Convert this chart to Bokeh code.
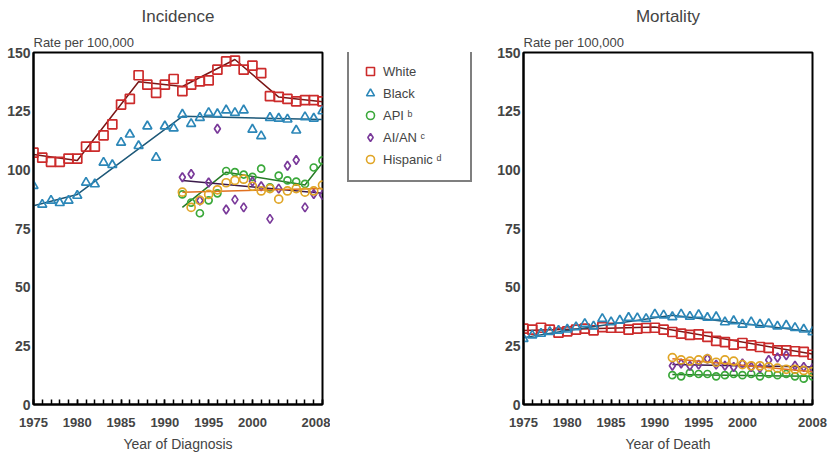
from bokeh.plotting import figure
from bokeh.layouts import row
from bokeh.models import FixedTicker, Title, Legend, LegendItem, Range1d
from bokeh.embed import file_html
from bokeh.resources import INLINE

FONT = "Liberation Sans"

# ---------------- data ----------------
years = list(range(1975, 2009))
sub_years = list(range(1992, 2009))

x_ticks = [1975, 1980, 1985, 1990, 1995, 2000, 2008]
y_ticks = [0, 25, 50, 75, 100, 125, 150]

# Incidence (rate per 100,000)
inc_white = [107.3, 105.2, 103.4, 103.4, 104.8, 104.8, 109.9, 109.9, 114.7, 119.4,
             127.8, 130.2, 140.3, 136.3, 132.8, 136.3, 138.7, 133.5, 136.3, 137.7,
             138.1, 142.7, 146.2, 146.5, 142.7, 144.4, 141.2, 131.4, 131.1, 130.2,
             129.2, 129.7, 129.7, 129.2]
inc_black = [93.2, 85.2, 86.9, 85.9, 86.9, 89.0, 94.6, 93.9, 103.1, 102.1,
             111.6, 115.1, 110.2, 118.6, 105.2, 118.6, 117.7, 123.6, 119.6, 122.2,
             124.3, 123.8, 125.4, 124.3, 125.4, 117.2, 114.4, 122.2, 121.9, 121.5,
             116.8, 122.5, 121.9, 125.0]
inc_api = [89.5, 86.0, 81.5, 87.0, 90.0, 99.5, 99.0, 98.0, 97.0, 100.5,
           92.5, 97.5, 95.5, 95.0, 94.0, 101.0, 104.0]
inc_aian = [96.8, 98.2, 86.9, 94.6, 117.5, 83.1, 87.3, 84.0, 95.0, 93.0,
            79.1, 92.0, 101.7, 104.2, 84.0, 89.7, 89.3]
inc_hisp = [90.5, 84.0, 87.0, 89.5, 91.5, 94.5, 95.5, 96.0, 93.0, 91.0,
            92.0, 87.5, 91.0, 92.0, 90.5, 91.0, 93.5]

# Incidence joinpoint trend lines
inc_white_trend_x = [1975, 1980, 1987, 1992, 1998, 2003, 2008]
inc_white_trend_y = [106.5, 104.0, 137.5, 135.5, 147.0, 131.0, 129.0]
inc_black_trend_x = [1975, 1980, 1992, 2008]
inc_black_trend_y = [84.7, 89.5, 122.8, 121.5]
inc_api_trend_x = [1992, 1997, 2006, 2008]
inc_api_trend_y = [84.0, 99.0, 93.5, 103.0]
inc_aian_trend_x = [1992, 2008]
inc_aian_trend_y = [95.5, 90.0]
inc_hisp_trend_x = [1992, 2008]
inc_hisp_trend_y = [90.5, 92.0]

# Mortality (rate per 100,000)
mort_white = [32.3, 31.9, 32.7, 31.9, 30.6, 31.2, 31.9, 32.3, 31.6, 33.0,
              32.7, 32.7, 31.9, 32.3, 32.6, 32.7, 31.9, 30.9, 30.2, 29.7,
              29.9, 28.8, 27.1, 26.6, 25.5, 26.2, 25.2, 24.5, 24.1, 23.1,
              23.1, 22.7, 22.4, 21.2]
mort_black = [28.0, 29.5, 30.2, 31.0, 31.5, 32.0, 33.0, 34.4, 33.3, 36.5,
              35.1, 35.8, 37.0, 36.8, 36.5, 38.4, 38.0, 37.3, 38.4, 37.5,
              38.2, 37.0, 37.3, 35.1, 35.6, 34.1, 35.1, 34.1, 34.4, 33.3,
              33.7, 32.7, 32.0, 30.9]
mort_api = [12.5, 12.0, 13.5, 13.0, 13.0, 12.0, 12.5, 13.0, 12.5, 13.0,
            12.0, 13.0, 12.5, 13.0, 12.0, 11.0, 12.0]
mort_aian = [16.5, 17.5, 16.5, 17.0, 19.5, 17.0, 16.5, 16.0, 17.5, 16.0,
             15.5, 19.0, 20.0, 21.0, 16.5, 16.0, 15.5]
mort_hisp = [20.0, 19.0, 18.5, 19.0, 19.5, 18.0, 19.0, 18.5, 17.0, 16.5,
             16.5, 16.0, 15.5, 15.0, 15.0, 14.5, 14.0]

mort_white_trend_x = [1975, 1990, 2008]
mort_white_trend_y = [31.5, 33.0, 21.5]
mort_black_trend_x = [1975, 1980, 1992, 2008]
mort_black_trend_y = [28.5, 31.5, 38.0, 31.0]
mort_api_trend_x = [1992, 2008]
mort_api_trend_y = [12.8, 12.0]
mort_aian_trend_x = [1992, 2008]
mort_aian_trend_y = [17.0, 16.0]
mort_hisp_trend_x = [1992, 2008]
mort_hisp_trend_y = [19.5, 14.0]

labels = ["White", "Black", "API \u1d47", "AI/AN \u1d9c", "Hispanic \u1d48"]

# ---------------- styles ----------------
COL = {"white": "#cc2b2b", "black": "#2c87b8", "api": "#3aa83a",
       "aian": "#7a3a9a", "hisp": "#e0a526"}
TREND = {"white": "#7a1515", "black": "#1d5878", "api": "#267a26",
         "aian": "#3b1a4a", "hisp": "#e07020"}
MARK = {"white": "square", "black": "triangle", "api": "circle",
        "aian": "diamond", "hisp": "circle"}
SIZE = {"white": 9, "black": 9, "api": 7, "aian": 9, "hisp": 8}
order = ["white", "black", "api", "aian", "hisp"]

H = 455


def make_panel(title, xlabel, width, bl, br):
    p = figure(width=width, height=H, x_range=Range1d(1975, 2008), y_range=Range1d(0, 150),
               output_backend="svg", toolbar_location=None,
               min_border_left=bl, min_border_right=br, min_border_top=4, min_border_bottom=51)
    p.add_layout(Title(text="Rate per 100,000", align="left", text_font=FONT,
                       text_font_size="13px", text_font_style="normal", standoff=6), "above")
    p.title.text = title
    p.title.align = "center"
    p.title.text_font = FONT
    p.title.text_font_size = "17px"
    p.title.text_font_style = "normal"
    p.title.standoff = 8
    p.grid.visible = False
    p.outline_line_color = "black"
    p.outline_line_width = 2
    p.background_fill_color = "white"
    p.border_fill_color = "white"

    xa = p.xaxis[0]
    xa.ticker = FixedTicker(ticks=x_ticks, minor_ticks=years)
    xa.axis_label = xlabel
    xa.axis_label_text_font = FONT
    xa.axis_label_text_font_size = "14px"
    xa.axis_label_text_font_style = "normal"
    xa.axis_label_standoff = 6
    xa.major_label_text_font = FONT
    xa.major_label_text_font_size = "13px"
    xa.major_label_text_font_style = "bold"
    xa.major_label_standoff = 13
    xa.axis_line_width = 2
    xa.major_tick_in = 5
    xa.major_tick_out = 0
    xa.minor_tick_in = 5
    xa.minor_tick_out = 0
    xa.major_tick_line_width = 1.5
    xa.minor_tick_line_width = 1.5

    ya = p.yaxis[0]
    ya.ticker = FixedTicker(ticks=y_ticks, minor_ticks=[])
    ya.major_label_text_font = FONT
    ya.major_label_text_font_size = "14px"
    ya.major_label_text_font_style = "bold"
    ya.major_label_standoff = 3
    ya.axis_line_width = 2
    ya.major_tick_in = 0
    ya.major_tick_out = 0
    return p


def add_series(p, key, xs, ys, tx, ty):
    p.line(tx, ty, line_color=TREND[key], line_width=1.5)
    return p.scatter(xs, ys, marker=MARK[key], size=SIZE[key], line_color=COL[key],
                     line_width=1.7, fill_alpha=0)


left = make_panel("Incidence", "Year of Diagnosis", 330, 33, 8)
add_series(left, "white", years, inc_white, inc_white_trend_x, inc_white_trend_y)
add_series(left, "black", years, inc_black, inc_black_trend_x, inc_black_trend_y)
add_series(left, "api", sub_years, inc_api, inc_api_trend_x, inc_api_trend_y)
add_series(left, "aian", sub_years, inc_aian, inc_aian_trend_x, inc_aian_trend_y)
add_series(left, "hisp", sub_years, inc_hisp, inc_hisp_trend_x, inc_hisp_trend_y)

right = make_panel("Mortality", "Year of Death", 348, 40, 19)
add_series(right, "white", years, mort_white, mort_white_trend_x, mort_white_trend_y)
add_series(right, "black", years, mort_black, mort_black_trend_x, mort_black_trend_y)
add_series(right, "api", sub_years, mort_api, mort_api_trend_x, mort_api_trend_y)
add_series(right, "aian", sub_years, mort_aian, mort_aian_trend_x, mort_aian_trend_y)
add_series(right, "hisp", sub_years, mort_hisp, mort_hisp_trend_x, mort_hisp_trend_y)

# middle panel holding the shared legend (its ranges keep the series out of view)
mid = figure(width=153, height=H, output_backend="svg", toolbar_location=None,
             x_axis_type=None, y_axis_type=None, min_border_left=0, min_border_right=0,
             min_border_top=0, min_border_bottom=51, outline_line_color=None,
             x_range=Range1d(0, 1), y_range=Range1d(0, 1))
mid.grid.visible = False
leg_series = [inc_white, inc_black, inc_api, inc_aian, inc_hisp]
leg_years = [years, years, sub_years, sub_years, sub_years]
items = []
for key, lab, xs, ys in zip(order, labels, leg_years, leg_series):
    r = mid.scatter(xs, ys, marker=MARK[key], size=7, line_color=COL[key],
                    line_width=1.6, fill_alpha=0)
    items.append(LegendItem(label=lab, renderers=[r]))
legend = Legend(items=items, location=(17, 222), border_line_color="black",
                border_line_width=2, padding=11, spacing=2, label_height=20,
                glyph_height=20, glyph_width=20, label_standoff=3, label_width=76,
                label_text_font=FONT, label_text_font_size="13px",
                background_fill_color="white", background_fill_alpha=1)
mid.add_layout(legend, "center")

layout = row(left, mid, right)
open("out.html", "w").write(file_html(layout, INLINE))
